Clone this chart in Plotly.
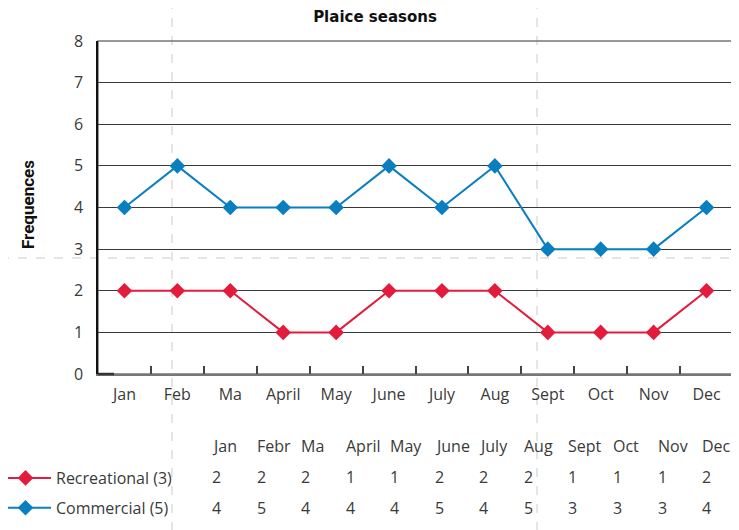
import plotly.graph_objects as go

# ---- data ----
months = ["Jan", "Feb", "Ma", "April", "May", "June", "July", "Aug", "Sept", "Oct", "Nov", "Dec"]
table_headers = ["Jan", "Febr", "Ma", "April", "May", "June", "July", "Aug", "Sept", "Oct", "Nov", "Dec"]
recreational = [2, 2, 2, 1, 1, 2, 2, 2, 1, 1, 1, 2]
commercial = [4, 5, 4, 4, 4, 5, 4, 5, 3, 3, 3, 4]
series_names = ["Recreational (3)", "Commercial (5)"]
y_ticks = [0, 1, 2, 3, 4, 5, 6, 7, 8]

# ---- styling ----
OFF = 8                      # page body margin offset
W, H = 739 - OFF, 530 - OFF  # figure size
# plot area in screen pixels: x 98..733, y 41..374
SL, SR, ST, SB = 98, 733, 41, 374
ML, MT = SL - OFF, ST - OFF
MR = W - (SR - OFF)
MB = H - (SB - OFF)
PW, PH = W - ML - MR, H - MT - MB
RED = "#e31c3d"
BLUE = "#0a7fc0"
TXT = "#3a3a3a"
FONT = "Open Sans"
FS = 16


def px_x(px):
    """screen x pixel -> paper coordinate"""
    return (px - OFF - ML) / PW


def px_y(py):
    """screen y pixel -> paper coordinate"""
    return (H - MB - (py - OFF)) / PH


fig = go.Figure()
for name, vals, col in [(series_names[0], recreational, RED), (series_names[1], commercial, BLUE)]:
    fig.add_trace(go.Scatter(
        x=months, y=vals, name=name, mode="lines+markers",
        line=dict(color=col, width=2),
        marker=dict(symbol="diamond", size=12, color=col),
        legendgroup=name, cliponaxis=False,
    ))

# data table below the chart
annotations = []
col_left0, col_step = 210, 44.55
row_y = [446, 477, 508]
rows = [table_headers, recreational, commercial]
for r, row in enumerate(rows):
    for i, v in enumerate(row):
        annotations.append(dict(
            x=px_x(col_left0 + col_step * i), y=px_y(row_y[r]), xref="paper", yref="paper",
            text=str(v), showarrow=False, xanchor="left", yanchor="middle",
            font=dict(family=FONT, size=FS, color=TXT),
        ))

# y-axis title
annotations.append(dict(
    x=px_x(28), y=px_y(205), xref="paper", yref="paper", text="<b>Frequences</b>",
    textangle=-90, showarrow=False, xanchor="center", yanchor="middle",
    font=dict(family="Roboto", size=17, color="#111111"),
))

shapes = [
    # guide lines (dashed, light)
    dict(type="line", xref="paper", yref="paper", x0=px_x(172), x1=px_x(172), y0=px_y(0), y1=px_y(540),
         line=dict(color="#dddddd", width=1.5, dash="dash"), layer="below"),
    dict(type="line", xref="paper", yref="paper", x0=px_x(537), x1=px_x(537), y0=px_y(0), y1=px_y(540),
         line=dict(color="#dddddd", width=1.5, dash="dash"), layer="below"),
    dict(type="line", xref="paper", yref="paper", x0=px_x(0), x1=px_x(745), y0=px_y(258), y1=px_y(258),
         line=dict(color="#dddddd", width=1.5, dash="dash"), layer="below"),
    # frame
    dict(type="rect", xref="paper", yref="paper", x0=0, x1=1, y0=0, y1=1,
         line=dict(color="#777777", width=1.5), layer="below"),
    dict(type="line", xref="paper", yref="paper", x0=0, x1=px_x(114), y0=0, y1=0,
         line=dict(color="#333333", width=2.5)),
]

fig.update_layout(
    width=W, height=H,
    margin=dict(l=ML, r=MR, t=MT, b=MB, autoexpand=False),
    paper_bgcolor="white", plot_bgcolor="white",
    title=dict(text="<b>Plaice seasons</b>", x=px_x(375), xref="paper", xanchor="center",
               y=1 - (17 - OFF) / H, yref="container", yanchor="middle",
               font=dict(family="DejaVu Sans", size=15, color="#111111")),
    font=dict(family=FONT, size=FS, color=TXT),
    showlegend=True,
    legend=dict(x=px_x(-5), y=px_y(461), xref="paper", yref="paper", xanchor="left", yanchor="top",
                orientation="v", traceorder="grouped", tracegroupgap=6, itemwidth=51,
                font=dict(family=FONT, size=FS, color=TXT), bgcolor="rgba(0,0,0,0)"),
    annotations=annotations,
    shapes=shapes,
)
fig.update_xaxes(
    type="category", range=[-0.5, 11.5], showgrid=False, zeroline=False,
    showline=True, linecolor="#777777", linewidth=1.5,
    ticks="inside", tickson="boundaries", ticklen=8, tickcolor="#444444", tickwidth=1.5,
    ticklabelstandoff=5, tickfont=dict(family=FONT, size=FS, color=TXT),
)
fig.update_yaxes(
    range=[0, 8], tickvals=y_ticks, showgrid=True, gridcolor="#3a3a3a", gridwidth=1,
    zeroline=False, showline=True, linecolor="#111111", linewidth=1.5,
    ticks="", ticklabelstandoff=10, tickfont=dict(family=FONT, size=FS, color=TXT),
)

fig.write_html("out.html")
